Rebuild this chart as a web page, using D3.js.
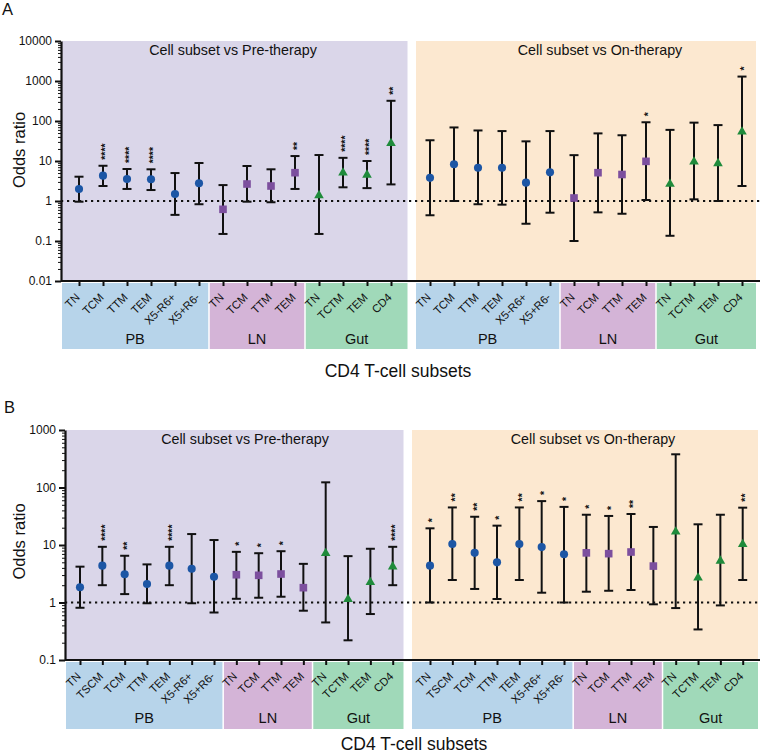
<!DOCTYPE html>
<html><head><meta charset="utf-8">
<script src="https://cdn.jsdelivr.net/npm/d3@7"></script>
<style>
body{margin:0;background:#fff}
svg{display:block}
text{font-family:"Liberation Sans",Arial,Helvetica,sans-serif;fill:#111}
</style>
</head><body>
<svg id="c" width="760" height="755"></svg>
<script>
// ---------- Panel A data ----------
const catsA   = ["TN","TCM","TTM","TEM","X5-R6+","X5+R6-","TN","TCM","TTM","TEM","TN","TCTM","TEM","CD4"];
const groupsA = ["PB","PB","PB","PB","PB","PB","LN","LN","LN","LN","Gut","Gut","Gut","Gut"];
const aPreOR  = [2.0, 4.3, 3.55, 3.5, 1.5, 2.77, 0.62, 2.66, 2.37, 5.1, 1.38, 5.1, 4.5, 27.7];
const aPreLo  = [0.96, 2.37, 2.0, 1.88, 0.45, 0.83, 0.15, 0.96, 0.93, 2.0, 0.15, 2.2, 2.1, 2.6];
const aPreHi  = [4.05, 7.6, 6.3, 6.2, 5.0, 8.9, 2.5, 7.5, 6.2, 13.3, 14.1, 12, 10, 320];
const aPreSig = ["","****","****","****","","","","","","**","","****","****","**"];
const aOnOR   = [3.8, 8.3, 6.8, 6.8, 2.87, 5.2, 1.19, 5.1, 4.6, 9.8, 2.66, 9.6, 8.7, 54];
const aOnLo   = [0.44, 1.0, 0.83, 0.81, 0.27, 0.51, 0.1, 0.52, 0.48, 1.06, 0.135, 1.1, 1.0, 2.37];
const aOnHi   = [33, 69, 58, 56, 31, 56, 14, 49, 44, 93, 60, 91, 79, 1290];
const aOnSig  = ["","","","","","","","","","*","","","","*"];
const aTicks  = [0.01, 0.1, 1, 10, 100, 1000, 10000];

// ---------- Panel B data ----------
const catsB   = ["TN","TSCM","TCM","TTM","TEM","X5-R6+","X5+R6-","TN","TCM","TTM","TEM","TN","TCTM","TEM","CD4"];
const groupsB = ["PB","PB","PB","PB","PB","PB","PB","LN","LN","LN","LN","Gut","Gut","Gut","Gut"];
const bPreOR  = [1.84, 4.37, 3.1, 2.1, 4.37, 3.87, 2.8, 3.04, 2.97, 3.13, 1.81, 7.2, 1.14, 2.25, 4.2];
const bPreLo  = [0.81, 2.0, 1.4, 0.97, 2.0, 0.97, 0.67, 1.16, 1.21, 1.26, 0.72, 0.45, 0.22, 0.63, 2.0];
const bPreHi  = [4.2, 9.3, 6.5, 4.6, 9.3, 15.5, 12.2, 7.6, 7.2, 7.8, 4.7, 123, 6.4, 8.6, 9.3];
const bPreSig = ["","****","**","","****","","","*","*","*","","","","","****"];
const bOnOR   = [4.37, 10.4, 7.3, 5.0, 10.4, 9.2, 6.9, 7.3, 7.07, 7.55, 4.3, 17, 2.7, 5.3, 10.3];
const bOnLo   = [1.0, 2.46, 1.72, 1.15, 2.46, 1.48, 1.0, 1.54, 1.6, 1.65, 0.93, 0.8, 0.34, 0.89, 2.46];
const bOnHi   = [19.5, 45, 31, 21.7, 45, 58, 46, 33.6, 32, 34.6, 20.6, 378, 22.9, 33.6, 44.6];
const bOnSig  = ["*","**","**","*","**","*","*","*","*","**","","","","","**"];
const bTicks  = [0.1, 1, 10, 100, 1000];

const halfTitles = ["Cell subset vs Pre-therapy", "Cell subset vs On-therapy"];
const xTitle = "CD4 T-cell subsets";
const yTitle = "Odds ratio";

// ---------- styles ----------
const groupFill = {PB:"#b7d4ea", LN:"#d4b4d7", Gut:"#a0d9b9"};
const markerFill = {PB:"#1c56a5", LN:"#7c4f9e", Gut:"#1f8b3b"};
const markerType = {PB:d3.symbolCircle, LN:d3.symbolSquare, Gut:d3.symbolTriangle};
const markerSize = {PB:52, LN:58, Gut:40};
const bgFill = ["#dad6e9", "#fce8d0"];

const svg = d3.select("#c");

function drawPanel(p) {
  const g = svg.append("g");
  const y = d3.scaleLog().domain([p.ticks[0], p.ticks[p.ticks.length-1]]).range(p.yRange);
  const y0 = p.yRange[0], yTop = p.yRange[1];

  const halves = [
    {or:p.preOR, lo:p.preLo, hi:p.preHi, sig:p.preSig, range:p.leftRange, bg:p.bgLeft, title:halfTitles[0], tx:p.titleX[0]},
    {or:p.onOR,  lo:p.onLo,  hi:p.onHi,  sig:p.onSig,  range:p.rightRange, bg:p.bgRight, title:halfTitles[1], tx:p.titleX[1]}
  ];

  // backgrounds
  halves.forEach((h, k) => {
    g.append("rect").attr("x", h.bg[0]).attr("y", yTop)
      .attr("width", h.bg[1]-h.bg[0]).attr("height", y0-yTop).attr("fill", bgFill[k]);
  });

  // dotted reference line at OR = 1
  g.append("line").attr("x1", p.axisX).attr("x2", 760).attr("y1", y(1)).attr("y2", y(1))
    .attr("stroke", "#111").attr("stroke-width", 2.2).attr("stroke-dasharray", "2.2,3.8");

  halves.forEach((h, k) => {
    const ids = p.cats.map((c,i)=>i);
    const x = d3.scalePoint().domain(ids).range(h.range);

    // group boxes
    const gnames = Array.from(new Set(p.groups));
    gnames.forEach(name => {
      const idx = ids.filter(i => p.groups[i] === name);
      const f = idx[0], l = idx[idx.length-1];
      const left = f === 0 ? h.bg[0] : (x(f-1)+x(f))/2 - 2 + 0.75;
      const right = l === ids.length-1 ? h.bg[1] : (x(l)+x(l+1))/2 - 2 - 0.75;
      g.append("rect").attr("x", left).attr("y", y0+2).attr("width", right-left)
        .attr("height", p.boxBottom-(y0+2)).attr("fill", groupFill[name]);
      g.append("text").attr("x", (left+right)/2).attr("y", p.groupLabelY)
        .attr("text-anchor","middle").attr("font-size", 14.5).text(name);
    });

    // x axis ticks with rotated labels
    const ax = g.append("g").attr("transform", `translate(0,${y0})`)
      .call(d3.axisBottom(x).tickSize(5).tickSizeOuter(0).tickFormat(i => p.cats[i]));
    ax.select(".domain").remove();
    ax.selectAll(".tick line").attr("stroke","#111").attr("stroke-width",2);
    ax.selectAll(".tick text").attr("y", null).attr("dy", null)
      .attr("transform", "translate(1,17) rotate(-45)")
      .attr("text-anchor","end").attr("font-size", 11.3)
      .attr("font-family", '"Liberation Sans",Arial,sans-serif').attr("fill","#111");

    // half title
    g.append("text").attr("x", h.tx).attr("y", p.titleY).attr("text-anchor","middle")
      .attr("font-size", 14.3).text(h.title);

    // error bars
    const eb = g.append("g").attr("stroke","#111").attr("stroke-width",2).attr("fill","none");
    ids.forEach(i => {
      const cx = x(i);
      eb.append("line").attr("x1",cx).attr("x2",cx).attr("y1",y(h.lo[i])).attr("y2",y(h.hi[i]));
      eb.append("line").attr("x1",cx-4.5).attr("x2",cx+4.5).attr("y1",y(h.lo[i])).attr("y2",y(h.lo[i]));
      eb.append("line").attr("x1",cx-4.5).attr("x2",cx+4.5).attr("y1",y(h.hi[i])).attr("y2",y(h.hi[i]));
    });

    // markers
    ids.forEach(i => {
      const grp = p.groups[i];
      g.append("path").attr("d", d3.symbol().type(markerType[grp]).size(markerSize[grp])())
        .attr("transform", `translate(${x(i)},${y(h.or[i])})`).attr("fill", markerFill[grp]);
    });

    // significance stars (rotated)
    ids.forEach(i => {
      if (!h.sig[i]) return;
      g.append("text").attr("transform", `translate(${x(i)},${y(h.hi[i]) - 6}) rotate(-90)`)
        .attr("dy","0.6em").attr("text-anchor","start").attr("font-size", 10.5)
        .attr("font-weight","bold").text(h.sig[i]);
    });
  });

  // x baseline
  g.append("line").attr("x1", p.axisX).attr("x2", 760).attr("y1", y0).attr("y2", y0)
    .attr("stroke","#111").attr("stroke-width",2);

  // y axis: majors + minors
  const minors = [];
  for (let d = 0; d < p.ticks.length-1; d++) for (let m = 2; m <= 9; m++) minors.push(p.ticks[d]*m);
  const yMinor = g.append("g").attr("transform", `translate(${p.axisX},0)`)
    .call(d3.axisLeft(y).tickValues(minors).tickSize(3).tickFormat(""));
  yMinor.select(".domain").remove();
  yMinor.selectAll(".tick line").attr("stroke","#111").attr("stroke-width",1);
  const yAx = g.append("g").attr("transform", `translate(${p.axisX},0)`)
    .call(d3.axisLeft(y).tickValues(p.ticks).tickSize(6).tickSizeOuter(0).tickFormat(d => String(d)));
  yAx.select(".domain").attr("stroke","#111").attr("stroke-width",2.2);
  yAx.selectAll(".tick line").attr("stroke","#111").attr("stroke-width",2);
  yAx.selectAll(".tick text").attr("font-size", 12).attr("x", -9)
    .attr("font-family", '"Liberation Sans",Arial,sans-serif').attr("fill","#111");

  // axis titles
  g.append("text").attr("transform", `translate(24.5,${p.yTitleY}) rotate(-90)`)
    .attr("text-anchor","middle").attr("font-size",16.5).text(yTitle);
  g.append("text").attr("x", p.xTitleX).attr("y", p.xTitleY).attr("text-anchor","middle")
    .attr("font-size",17.5).text(xTitle);
  g.append("text").attr("x", p.letterX).attr("y", p.letterY).attr("font-size",16.5).text(p.letter);
}

drawPanel({
  letter:"A", letterX:2, letterY:15,
  cats:catsA, groups:groupsA, ticks:aTicks,
  preOR:aPreOR, preLo:aPreLo, preHi:aPreHi, preSig:aPreSig,
  onOR:aOnOR, onLo:aOnLo, onHi:aOnHi, onSig:aOnSig,
  yRange:[281,41], axisX:61,
  leftRange:[79,391], rightRange:[430,742],
  bgLeft:[62,407.5], bgRight:[416,756],
  boxBottom:349, groupLabelY:344,
  titleX:[233,600], titleY:55,
  yTitleY:150, xTitleX:398, xTitleY:377
});

drawPanel({
  letter:"B", letterX:4, letterY:413,
  cats:catsB, groups:groupsB, ticks:bTicks,
  preOR:bPreOR, preLo:bPreLo, preHi:bPreHi, preSig:bPreSig,
  onOR:bOnOR, onLo:bOnLo, onHi:bOnHi, onSig:bOnSig,
  yRange:[660,430], axisX:65,
  leftRange:[80,392.7], rightRange:[430,742.7],
  bgLeft:[66,403.5], bgRight:[412,758],
  boxBottom:729, groupLabelY:723,
  titleX:[245,593], titleY:444,
  yTitleY:541.5, xTitleX:414, xTitleY:749.5
});
</script>
</body></html>
